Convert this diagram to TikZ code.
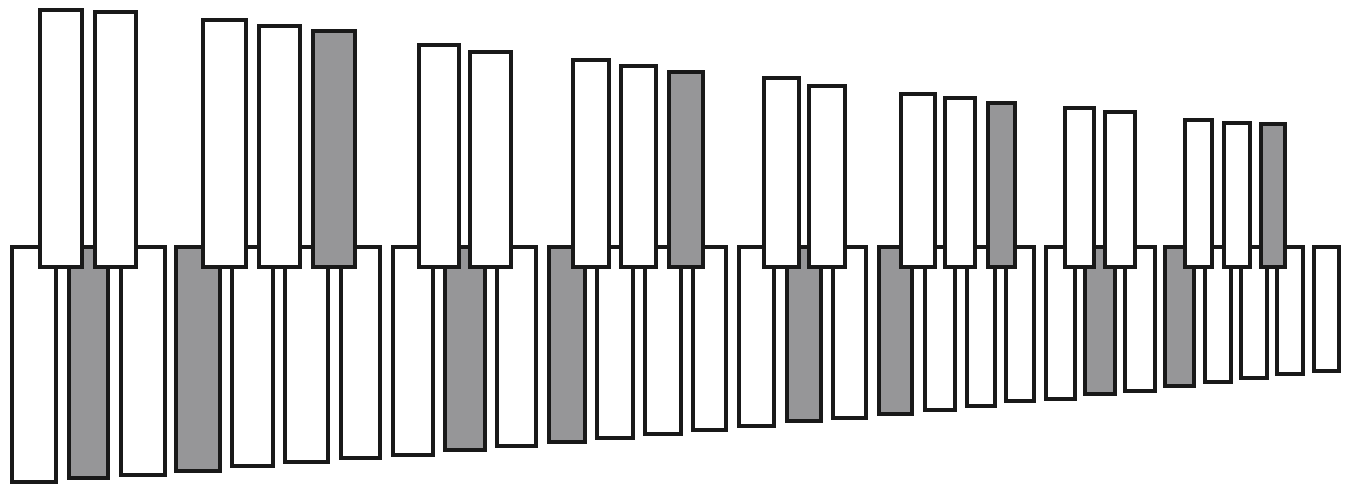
\documentclass[tikz,border=0pt]{standalone}
\usepackage{tikz}

\definecolor{keygray}{RGB}{150,150,152}

\begin{document}
\begin{tikzpicture}[
x=0.02cm,y=-0.02cm,
key/.style={draw=black!90,line width=2pt,line join=miter}]
\useasboundingbox (0,0) rectangle (1353,487);
% lower row: left, right, bottom, fill
\foreach \xa/\xb/\yb/\fc in {10/58/484/white,67/110/480/keygray,119/167/477/white,
  174/222/473/keygray,230/275/468/white,283/330/464/white,339/382/460/white,
  391/435/457/white,443/487/452/keygray,495/538/448/white,547/587/444/keygray,
  595/635/440/white,643/683/436/white,691/728/432/white,
  737/776/428/white,785/823/423/keygray,831/868/420/white,877/914/416/keygray,
  923/957/412/white,965/997/408/white,1004/1036/403/white,
  1044/1077/401/white,1083/1117/396/keygray,1123/1157/393/white,1163/1196/388/keygray,
  1203/1233/384/white,1239/1269/380/white,1275/1305/376/white,1312/1341/373/white}
  \draw[key,fill=\fc] (\xa+2,247) rectangle (\xb-2,\yb-2);
% upper row: left, right, top, fill
\foreach \xa/\xb/\ya/\fc in {38/84/8/white,93/138/10/white,
  201/248/18/white,257/302/24/white,311/357/29/keygray,
  417/461/43/white,468/513/50/white,
  571/611/58/white,619/658/64/white,667/705/70/keygray,
  762/801/76/white,807/847/84/white,
  899/937/92/white,943/977/96/white,986/1017/101/keygray,
  1063/1096/106/white,1103/1137/110/white,
  1183/1214/118/white,1222/1252/121/white,1259/1287/122/keygray}
  \draw[key,fill=\fc] (\xa+2,\ya+2) rectangle (\xb-2,267);
\end{tikzpicture}
\end{document}
